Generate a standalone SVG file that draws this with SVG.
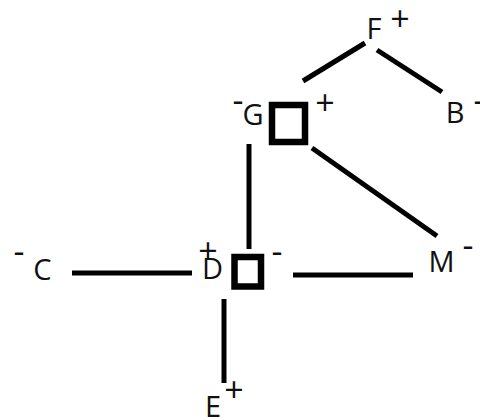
<svg xmlns="http://www.w3.org/2000/svg" width="480" height="420" viewBox="0 0 480 420">
<style>
.lbl{font-family:"Open Sans","Liberation Sans",sans-serif;font-size:29px;fill:#111;text-anchor:middle}
.chg{font-family:"Open Sans","Liberation Sans",sans-serif;font-size:34px;fill:#111;text-anchor:middle}
.ln{stroke:#000;stroke-width:5;fill:none}
.box{stroke:#000;stroke-width:6.5;fill:none}
</style>
<rect width="480" height="420" fill="#fff"/>
<g id="connectors">
<line class="ln" x1="303" y1="81" x2="365" y2="43"/>
<line class="ln" x1="377" y1="50" x2="442" y2="92"/>
<line class="ln" x1="312" y1="148" x2="437" y2="236"/>
<line class="ln" x1="249" y1="144" x2="249" y2="249"/>
<line class="ln" x1="72" y1="273" x2="192" y2="273"/>
<line class="ln" x1="293" y1="275" x2="413" y2="275"/>
<line class="ln" x1="224" y1="299" x2="224" y2="383"/>
</g>
<g id="node-F">
<text class="lbl" x="374" y="39">F</text>
<text class="chg" x="400" y="31">+</text>
</g>
<g id="node-G">
<text class="chg" x="238" y="112">-</text>
<text class="lbl" x="253" y="125">G</text>
<rect class="box" x="272" y="105" width="33" height="37"/>
<text class="chg" x="325" y="115">+</text>
</g>
<g id="node-B">
<text class="lbl" x="455" y="123">B</text>
<text class="chg" x="479" y="112">-</text>
</g>
<g id="node-C">
<text class="chg" x="19" y="263">-</text>
<text class="lbl" x="42.5" y="280">C</text>
</g>
<g id="node-D">
<text class="lbl" x="212.5" y="279">D</text>
<text class="chg" x="208" y="263">+</text>
<rect class="box" x="234.5" y="257" width="26.5" height="29.5"/>
<text class="chg" x="277" y="263">-</text>
</g>
<g id="node-M">
<text class="lbl" x="441.5" y="272">M</text>
<text class="chg" x="468" y="257">-</text>
</g>
<g id="node-E">
<text class="lbl" x="213" y="417">E</text>
<text class="chg" x="234" y="402">+</text>
</g>
</svg>
